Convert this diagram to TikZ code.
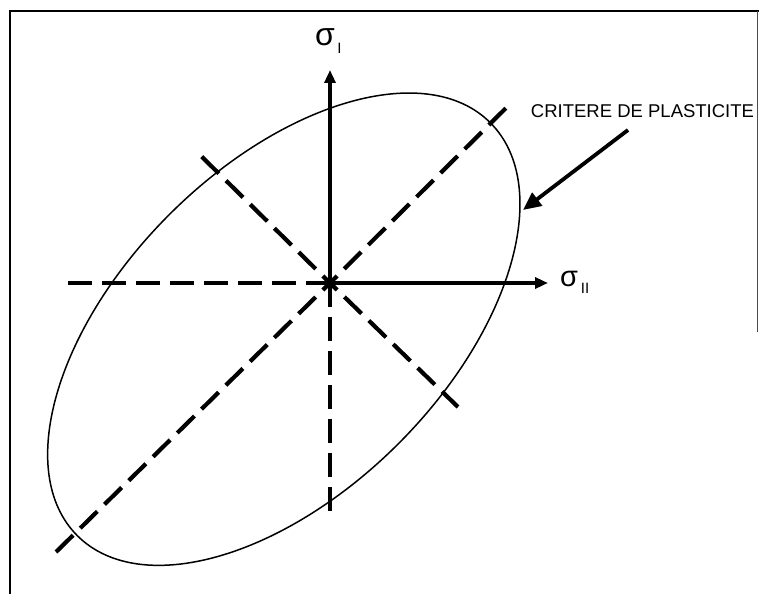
\documentclass[tikz,border=0pt]{standalone}
\usepackage{fontspec}
\setmainfont{Liberation Sans}
\usetikzlibrary{arrows.meta}
\tikzset{
  axisline/.style={line width=3.6pt,-{Triangle[length=13pt,width=11pt]}},
  dashline/.style={line width=4.2pt,dash pattern=on 24pt off 10pt},
  framerule/.style={line width=2.8pt},
  curve/.style={line width=1.5pt},
  pointer/.style={line width=3.8pt,-{Triangle[length=18pt,width=16pt]}},
  lbl/.style={inner sep=0pt,font=\fontsize{18.5}{20}\selectfont}
}
\begin{document}
\begin{tikzpicture}[x=1pt,y=1pt]
\useasboundingbox (0,0) rectangle (759,594);
% frame
\coordinate (FTL) at (10,583);
\coordinate (FTR) at (759,583);
\coordinate (FBL) at (10,0);
\coordinate (RT) at (757,583);
\coordinate (RB) at (757,262);
\draw[framerule] (FBL) -- (FTL) -- (FTR);
\draw[line width=1pt,black!70] (RT) -- (RB);
% points
\coordinate (O) at (330,311);
\coordinate (VT) at (330,524);
\coordinate (HT) at (548,311);
\coordinate (HL) at (68,311);
\coordinate (VB) at (330,83);
\coordinate (DUR) at (507,487);
\coordinate (DLL) at (56,42);
\coordinate (AUL) at (198,441);
\coordinate (ALR) at (458,187);
\coordinate (EC) at (283.8,264.8);
% ellipse
\draw[curve,rotate around={45:(EC)}] (EC) ellipse [x radius=292pt,y radius=162pt];
% dashed lines
\draw[dashline] (HL) -- (O);
\draw[dashline,dash phase=0pt] (O) -- (VB);
\draw[dashline,dash phase=14pt] (O) -- (DUR);
\draw[dashline,dash phase=14pt] (O) -- (DLL);
\draw[dashline,dash phase=14pt] (O) -- (AUL);
\draw[dashline,dash phase=14pt] (O) -- (ALR);
% axes
\draw[axisline] (O) -- (VT);
\draw[axisline] (O) -- (HT);
% labels
\node[inner sep=0pt,font=\fontsize{32}{34}\selectfont] (s1) at (325,557) {σ};
\node[inner sep=0pt,font=\fontsize{15}{16}\selectfont] (s1sub) at (339.5,546) {I};
\node[inner sep=0pt,font=\fontsize{29}{31}\selectfont] (s2) at (569,315) {σ};
\node[inner sep=0pt,font=\fontsize{15}{16}\selectfont] (s2sub) at (585,306) {II};
\node[lbl] (crit) at (642.5,482.5) {CRITERE DE PLASTICITE};
% pointer
\coordinate (PT) at (628,464);
\coordinate (PH) at (523,384);
\draw[pointer] (PT) -- (PH);
\end{tikzpicture}
\end{document}
